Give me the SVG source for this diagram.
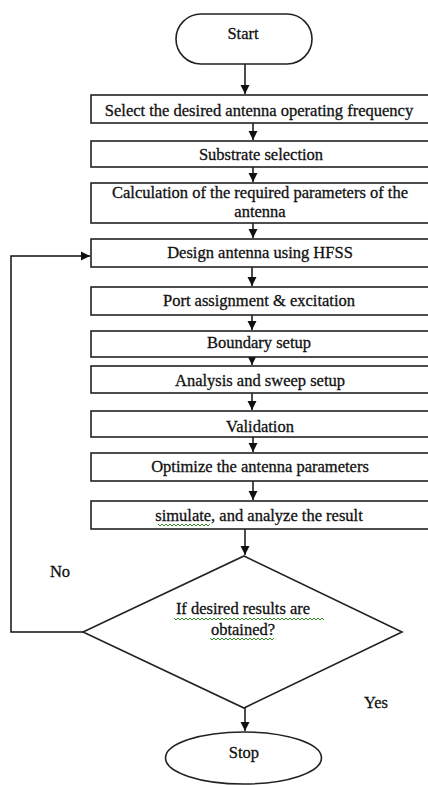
<svg xmlns="http://www.w3.org/2000/svg" width="428" height="785" viewBox="0 0 428 785">
<defs>
<marker id="ah" markerUnits="userSpaceOnUse" markerWidth="10" markerHeight="10" refX="9" refY="5" orient="auto">
<path d="M0,0.5 L9,5 L0,9.5 Z" fill="#111"/>
</marker>
<style>
.box{fill:#fff;stroke:#222;stroke-width:1.6}
.t{font-family:"Liberation Serif","Times New Roman",serif;font-size:16.5px;fill:#111;stroke:#111;stroke-width:0.3;text-anchor:middle}
.c{fill:none;stroke:#111;stroke-width:1.5}
.sq{fill:none;stroke:#2f8f22;stroke-width:1}
</style>
</defs>
<rect width="428" height="785" fill="#fff"/>
<g id="connectors">
<path class="c" d="M245,64 V94" marker-end="url(#ah)"/>
<path class="c" d="M253,123 V140" marker-end="url(#ah)"/>
<path class="c" d="M253,167 V182" marker-end="url(#ah)"/>
<path class="c" d="M253,223 V238" marker-end="url(#ah)"/>
<path class="c" d="M252,267 V286" marker-end="url(#ah)"/>
<path class="c" d="M252,315 V330" marker-end="url(#ah)"/>
<path class="c" d="M252,357 V365" marker-end="url(#ah)"/>
<path class="c" d="M252,393 V410" marker-end="url(#ah)"/>
<path class="c" d="M253,437 V452" marker-end="url(#ah)"/>
<path class="c" d="M253,481 V500" marker-end="url(#ah)"/>
<path class="c" d="M245,529 V555" marker-end="url(#ah)"/>
<path class="c" d="M245,708 V731" marker-end="url(#ah)"/>
<path class="c" d="M83,632 H11 V256 H90" marker-end="url(#ah)"/>
</g>
<g id="start"><rect class="box" x="176" y="14" width="136" height="50" rx="25"/><text class="t" x="243" y="39">Start</text></g>
<g id="n1"><rect class="box" x="91" y="95" width="345" height="28"/><text class="t" x="259" y="116">Select the desired antenna operating frequency</text></g>
<g id="n2"><rect class="box" x="91" y="141" width="345" height="26"/><text class="t" x="261" y="160">Substrate selection</text></g>
<g id="n3"><rect class="box" x="91" y="183" width="345" height="40"/><text class="t" x="260" y="198">Calculation of the required parameters of the</text><text class="t" x="260" y="217">antenna</text></g>
<g id="n4"><rect class="box" x="91" y="239" width="345" height="28"/><text class="t" x="260" y="258">Design antenna using HFSS</text></g>
<g id="n5"><rect class="box" x="91" y="287" width="345" height="28"/><text class="t" x="259" y="306">Port assignment &amp; excitation</text></g>
<g id="n6"><rect class="box" x="91" y="331" width="345" height="26"/><text class="t" x="259" y="348">Boundary setup</text></g>
<g id="n7"><rect class="box" x="91" y="366" width="345" height="27"/><text class="t" x="260" y="386">Analysis and sweep setup</text></g>
<g id="n8"><rect class="box" x="91" y="411" width="345" height="26"/><text class="t" x="260" y="432">Validation</text></g>
<g id="n9"><rect class="box" x="91" y="453" width="345" height="28"/><text class="t" x="260" y="472">Optimize the antenna parameters</text></g>
<g id="n10"><rect class="box" x="91" y="501" width="345" height="28"/><text class="t" x="259" y="521">simulate, and analyze the result</text>
<path class="sq" d="M158,524 l2,2 l2,-2 l2,2 l2,-2 l2,2 l2,-2 l2,2 l2,-2 l2,2 l2,-2 l2,2 l2,-2 l2,2 l2,-2 l2,2 l2,-2 l2,2 l2,-2 l2,2 l2,-2 l2,2 l2,-2 l2,2 l2,-2 l2,2 l2,-2"/></g>
<g id="decision"><path class="box" d="M244,556 L402,632 L244,708 L83,632 Z"/>
<text class="t" x="243" y="614">If desired results are</text><text class="t" x="243" y="635">obtained?</text>
<path class="sq" d="M174,618 l2,2 l2,-2 l2,2 l2,-2 l2,2 l2,-2 l2,2 l2,-2 l2,2 l2,-2 l2,2 l2,-2 l2,2 l2,-2 l2,2 l2,-2 l2,2 l2,-2 l2,2 l2,-2 l2,2 l2,-2 l2,2 l2,-2 l2,2 l2,-2 l2,2 l2,-2 l2,2 l2,-2 l2,2 l2,-2 l2,2 l2,-2 l2,2 l2,-2 l2,2 l2,-2 l2,2 l2,-2 l2,2 l2,-2 l2,2 l2,-2 l2,2 l2,-2 l2,2 l2,-2 l2,2 l2,-2 l2,2 l2,-2 l2,2 l2,-2 l2,2 l2,-2 l2,2 l2,-2 l2,2 l2,-2 l2,2 l2,-2 l2,2 l2,-2 l2,2 l2,-2 l2,2 l2,-2 l2,2 l2,-2 l2,2 l2,-2 l2,2 l2,-2 l2,2"/>
<path class="sq" d="M210,638 l2,2 l2,-2 l2,2 l2,-2 l2,2 l2,-2 l2,2 l2,-2 l2,2 l2,-2 l2,2 l2,-2 l2,2 l2,-2 l2,2 l2,-2 l2,2 l2,-2 l2,2 l2,-2 l2,2 l2,-2 l2,2 l2,-2 l2,2 l2,-2 l2,2 l2,-2 l2,2 l2,-2 l2,2 l2,-2"/></g>
<g id="stop"><ellipse class="box" cx="243.5" cy="758" rx="78" ry="26"/><text class="t" x="244" y="758">Stop</text></g>
<g id="labels"><text class="t" x="60" y="577">No</text><text class="t" x="376" y="708">Yes</text></g>
</svg>
